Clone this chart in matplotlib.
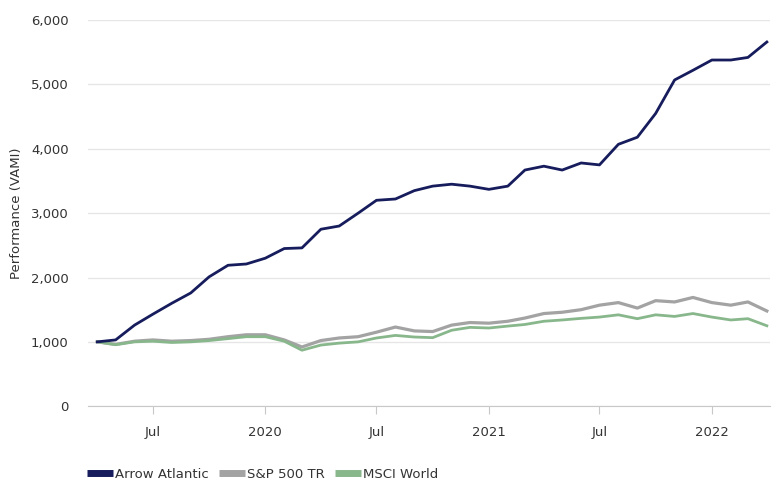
import matplotlib
matplotlib.use("Agg")
import matplotlib.pyplot as plt
import matplotlib.dates as mdates
from matplotlib.lines import Line2D
import pandas as pd

# monthly VAMI values, Apr 2019 .. Apr 2022
dates = pd.date_range("2019-04-01", "2022-04-01", freq="MS")

arrow_atlantic = [1000, 1030, 1260, 1430, 1600, 1760, 2010, 2190, 2210, 2300,
                  2450, 2460, 2750, 2800, 3000, 3200, 3220, 3350, 3420, 3450,
                  3420, 3370, 3420, 3670, 3730, 3670, 3780, 3750, 4070, 4180,
                  4550, 5070, 5220, 5380, 5380, 5420, 5660]
sp500_tr = [1000, 960, 1010, 1030, 1010, 1020, 1040, 1080, 1110, 1110,
            1030, 920, 1020, 1060, 1080, 1150, 1230, 1170, 1160, 1260,
            1300, 1290, 1320, 1370, 1440, 1460, 1500, 1570, 1610, 1525,
            1640, 1620, 1690, 1610, 1570, 1620, 1480]
msci_world = [1000, 955, 1000, 1010, 990, 1000, 1020, 1050, 1080, 1080,
              1010, 870, 950, 980, 1000, 1060, 1100, 1075, 1065, 1180,
              1225, 1215, 1245, 1270, 1320, 1340, 1365, 1385, 1420, 1360,
              1420, 1395, 1440, 1385, 1340, 1360, 1250]

series_names = ["Arrow Atlantic", "S&P 500 TR", "MSCI World"]
colors = ["#161c5c", "#a3a3a3", "#88b78c"]

y_ticks = [0, 1000, 2000, 3000, 4000, 5000, 6000]

fig = plt.figure(figsize=(7.73, 4.79), dpi=100)
ax = fig.add_axes([0.114, 0.152, 0.882, 0.806])

ax.plot(dates, msci_world, color=colors[2], lw=2.0, zorder=3)
ax.plot(dates, sp500_tr, color=colors[1], lw=2.3, zorder=2)
ax.plot(dates, arrow_atlantic, color=colors[0], lw=2.0, zorder=4)

ax.set_ylim(0, 6000)
ax.set_xlim(pd.Timestamp("2019-03-17"), pd.Timestamp("2022-04-06"))
ax.set_yticks(y_ticks)
ax.set_yticklabels([f"{v:,}" for v in y_ticks])
ax.grid(axis="y", color="#e6e6e6", lw=1)
ax.set_axisbelow(True)

ax.xaxis.set_major_locator(mdates.MonthLocator(bymonth=[1, 7]))
def fmt_date(x, pos):
    d = mdates.num2date(x)
    return str(d.year) if d.month == 1 else "Jul"
ax.xaxis.set_major_formatter(plt.FuncFormatter(fmt_date))

for s in ["top", "right", "left"]:
    ax.spines[s].set_visible(False)
ax.spines["bottom"].set_color("#c8c8c8")
ax.tick_params(axis="y", length=0, labelsize=9.5, labelcolor="#333333", pad=14)
ax.tick_params(axis="x", length=6, color="#c8c8c8", labelsize=9.5,
               labelcolor="#333333", pad=8)
ax.set_ylabel("Performance (VAMI)", fontsize=9.5, color="#333333", labelpad=6)

handles = [Line2D([], [], color=c, lw=5, solid_capstyle="butt") for c in colors]
fig.legend(handles, series_names, loc="lower left",
           bbox_to_anchor=(0.097, -0.028), ncol=3, frameon=False,
           fontsize=9.5, handlelength=2.0, handletextpad=0.1,
           columnspacing=0.8, labelcolor="#333333")

fig.savefig("out.png", dpi=100)
